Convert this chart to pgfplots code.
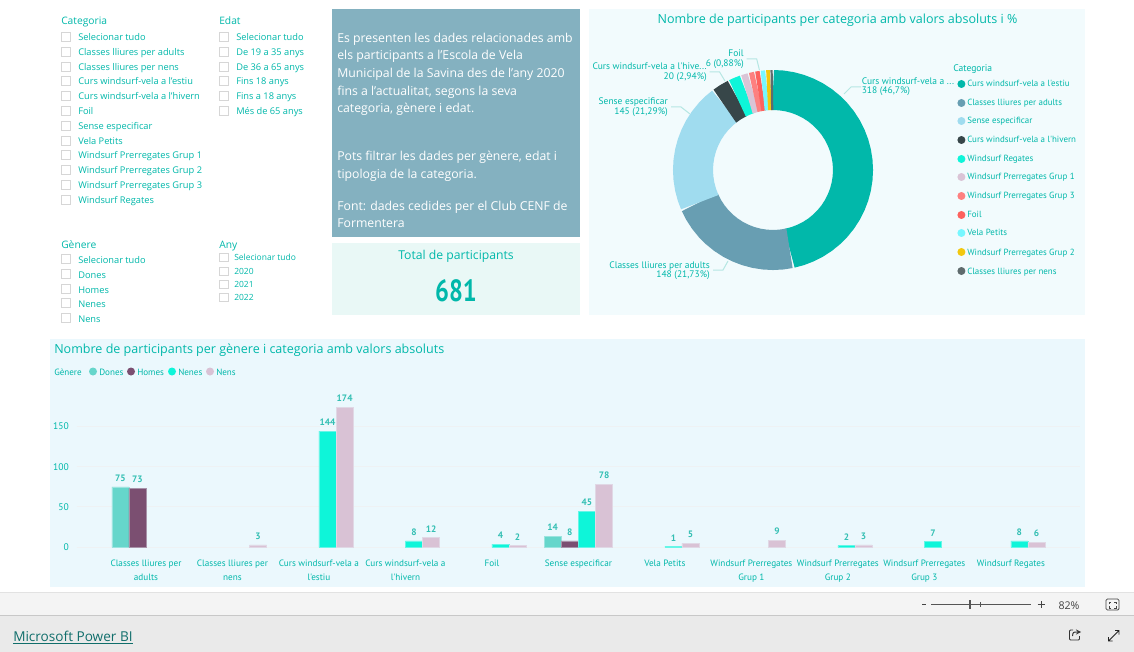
\documentclass[border=0pt]{standalone}
\usepackage{fontspec}
\usepackage{graphicx}
\usepackage{pgfplots}
\pgfplotsset{compat=1.18}
\usepgfplotslibrary{polar}
\setmainfont{Open Sans}
\newfontfamily\din{PT Sans}
\definecolor{teal}{HTML}{01B8AA}
\definecolor{tealsoft}{HTML}{33BFB3}
\definecolor{cbc}{HTML}{D6D6D6}
\definecolor{leader}{HTML}{B5E7E3}
\definecolor{cA}{HTML}{01B8AA}\definecolor{cB}{HTML}{689EB2}\definecolor{cC}{HTML}{A0DCEF}
\definecolor{cD}{HTML}{374649}\definecolor{cE}{HTML}{0EF5D9}\definecolor{cF}{HTML}{DAC4D6}
\definecolor{cG}{HTML}{FD8080}\definecolor{cH}{HTML}{FD625E}\definecolor{cI}{HTML}{77F7FF}
\definecolor{cJ}{HTML}{F2C80F}\definecolor{cK}{HTML}{5F6B6D}
\definecolor{gD}{HTML}{66D6CB}\definecolor{gH}{HTML}{7B4F71}\definecolor{gN}{HTML}{0EF5D9}\definecolor{gS}{HTML}{D9C2D5}
\definecolor{pA}{HTML}{84B1C0}\definecolor{pB}{HTML}{E9F8F6}\definecolor{pC}{HTML}{F2FBFD}\definecolor{pD}{HTML}{EBF8FD}
\definecolor{fA}{HTML}{F4F4F4}\definecolor{fB}{HTML}{EAEAEA}\definecolor{lA}{HTML}{E2E2E2}\definecolor{lB}{HTML}{C8C8C8}
\definecolor{gridc}{HTML}{EEF2F4}\definecolor{linkc}{HTML}{106E6B}
\definecolor{dA}{HTML}{444444}\definecolor{dB}{HTML}{555555}\definecolor{dC}{HTML}{333333}\definecolor{dD}{HTML}{222222}
\newcommand\fpx[1]{\fontsize{#1}{#1}\selectfont}
\begin{document}
\begin{tikzpicture}
\begin{scope}[x=0.75pt,y=-0.75pt]
\path[use as bounding box] (0,0) rectangle (1134,652);
\fill[white] (0,0) rectangle (1134,652);
% panels
\fill[pA] (332,9) rectangle (580,237);
\fill[pB] (332,243) rectangle (580,315);
\fill[pC] (589,9) rectangle (1085,315);
\fill[pD] (50,339) rectangle (1085,587);
% footer
\fill[fA] (0,592) rectangle (1134,615);
\fill[fB] (0,615) rectangle (1134,652);
\draw[lA,line width=.75pt] (0,592.5) -- (1134,592.5);
\draw[lB,line width=.75pt] (0,615) -- (1134,615);
\coordinate (barO) at (76.8,547.3);
\coordinate (pieC) at (773,170);
\end{scope}
% bar chart
\begin{axis}[at={(barO)},anchor=south west,scale only axis,width=752.4pt,height=114.9pt,
  ybar=0pt,bar width=12.83pt,
  xmin=-0.8,xmax=10.8,ymin=0,ymax=190,
  axis line style={draw=none},major tick length=0pt,
  ymajorgrids,grid style={gridc,line width=.75pt},
  ytick={0,50,100,150},xtick={0,...,10},
  xticklabels={{Classes lliures per\\adults},{Classes lliures per\\nens},{Curs windsurf-vela a\\l'estiu},{Curs windsurf-vela a\\l'hivern},{Foil},{Sense especificar},{Vela Petits},{Windsurf Prerregates\\Grup 1},{Windsurf Prerregates\\Grup 2},{Windsurf Prerregates\\Grup 3},{Windsurf Regates}},
  xticklabel style={align=center,font=\din\fontsize{6.9}{10.4}\selectfont,text=teal,yshift=-6pt},
  yticklabel style={font=\din\fpx{7.2},text=teal,xshift=-2.5pt},
  /pgf/number format/assume math mode=true,
  nodes near coords,
  nodes near coords style={font=\din\bfseries\fpx{7},text=tealsoft,yshift=0.5pt},
  clip=false]
\addplot[fill=gD,draw=gD!60!pD,line width=.35pt] coordinates {(0,75)(5,14)};
\addplot[fill=gH,draw=gH!60!pD,line width=.35pt] coordinates {(0,73)(5,8)};
\addplot[fill=gN,draw=gN!60!pD,line width=.35pt] coordinates {(2,144)(3,8)(4,4)(5,45)(6,1)(8,2)(9,7)(10,8)};
\addplot[fill=gS,draw=gS!60!pD,line width=.35pt] coordinates {(1,3)(2,174)(3,12)(4,2)(5,78)(6,5)(7,9)(8,3)(10,6)};
\end{axis}
% donut: angles are the cumulative shares of 318,148,145,20,14,9,7,6,6,5,3 out of 681
\begin{polaraxis}[at={(pieC)},anchor=center,scale only axis,width=150pt,height=150pt,
  hide axis,ymin=0,ymax=100,clip=false]
\pgfplotsset{every axis plot/.style={line width=30pt,line cap=butt,line join=miter,no markers}}
\addplot[cA] coordinates {(90,80)(84,80)(78,80)(72,80)(66,80)(60,80)(54,80)(48,80)(42,80)(36,80)(30,80)(24,80)(18,80)(12,80)(6,80)(0,80)(-6,80)(-12,80)(-18,80)(-24,80)(-30,80)(-36,80)(-42,80)(-48,80)(-54,80)(-60,80)(-66,80)(-72,80)(-78.1,80)};
\addplot[cB] coordinates {(-78.1,80)(-84,80)(-90,80)(-96,80)(-102,80)(-108,80)(-114,80)(-120,80)(-126,80)(-132,80)(-138,80)(-144,80)(-150,80)(-156.3,80)};
\addplot[cC] coordinates {(-156.3,80)(-162,80)(-168,80)(-174,80)(-180,80)(-186,80)(-192,80)(-198,80)(-204,80)(-210,80)(-216,80)(-222,80)(-228,80)(-233,80)};
\addplot[cD] coordinates {(-233,80)(-238,80)(-243.6,80)};
\addplot[cE] coordinates {(-243.6,80)(-247,80)(-251,80)};
\addplot[cF] coordinates {(-251,80)(-255.7,80)};
\addplot[cG] coordinates {(-255.7,80)(-259.4,80)};
\addplot[cH] coordinates {(-259.4,80)(-262.6,80)};
\addplot[cI] coordinates {(-262.6,80)(-265.8,80)};
\addplot[cJ] coordinates {(-265.8,80)(-268.4,80)};
\addplot[cK] coordinates {(-268.4,80)(-270,80)};
\end{polaraxis}
\begin{scope}[x=0.75pt,y=-0.75pt,every node/.style={inner sep=0pt,text=teal}]
% slicers
\newcommand\cbx[3]{\draw[cbc,fill=white,line width=.6pt] (#1,#2-4.5) rectangle (#1+9,#2+4.5);\node[anchor=base west] at (#1+17,#2+4) {\fpx{6.95}#3};}
\node[anchor=base west] at (61,25) {\fpx{7.7}Categoria};
\foreach \y/\t in {37/Selecionar tudo,52/Classes lliures per adults,67/Classes lliures per nens,81/Curs windsurf-vela a l'estiu,96/Curs windsurf-vela a l'hivern,111/Foil,126/Sense especificar,141/Vela Petits,155/Windsurf Prerregates Grup 1,170/Windsurf Prerregates Grup 2,185/Windsurf Prerregates Grup 3,200/Windsurf Regates} {\cbx{61}{\y}{\t}}
\node[anchor=base west] at (219,25) {\fpx{7.7}Edat};
\foreach \y/\t in {37/Selecionar tudo,52/De 19 a 35 anys,67/De 36 a 65 anys,81/Fins 18 anys,96/Fins a 18 anys,111/Més de 65 anys} {\cbx{219}{\y}{\t}}
\node[anchor=base west] at (61,248) {\fpx{7.7}Gènere};
\foreach \y/\t in {259/Selecionar tudo,274/Dones,289/Homes,303/Nenes,318/Nens} {\cbx{61}{\y}{\t}}
\node[anchor=base west] at (219,248) {\fpx{7.7}Any};
\foreach \y/\t in {257/Selecionar tudo,271/2020,284/2021,297/2022} {\draw[cbc,fill=white,line width=.6pt] (219,\y-4) rectangle (228,\y+4.5);\node[anchor=base west] at (234,\y+3.5) {\fpx{6.35}\t};}
% text panel
\foreach \y/\t in {43/Es presenten les dades relacionades amb,60/els participants a l'Escola de Vela,78/Municipal de la Savina des de l'any 2020,96/{fins a l'actualitat, segons la seva},113/{categoria, gènere i edat.},161/{Pots filtrar les dades per gènere, edat i},179/tipologia de la categoria.,211/Font: dades cedides per el Club CENF de,228/Formentera} {\node[anchor=base west,text=white] at (337,\y) {\fpx{9.2}\t};}
\node[anchor=base] at (456,259) {\fpx{9.15}Total de participants};
\node[anchor=base] at (456,301) {\scalebox{.8}[1]{\din\bfseries\fpx{23}681}};
% titles
\node[anchor=base] at (837.5,24) {\fpx{9.4}Nombre de participants per categoria amb valors absoluts i \%};
\node[anchor=base west] at (54,353) {\fpx{9.4}Nombre de participants per gènere i categoria amb valors absoluts};
% bar legend
\node[anchor=base west] at (54,375) {\din\fpx{6.8}Gènere};
\foreach \x/\c/\t in {93/gD/Dones,131/gH/Homes,172/gN/Nenes,210/gS/Nens} {\fill[\c] (\x,371.5) circle (4);\node[anchor=base west] at (\x+6,375) {\din\fpx{6.8}\t};}
% pie legend
\node[anchor=base west] at (953,72) {\din\fpx{7.2}Categoria};
\foreach \y/\c/\t in {84/cA/Curs windsurf-vela a l'estiu,103/cB/Classes lliures per adults,121/cC/Sense especificar,140/cD/Curs windsurf-vela a l'hivern,159/cE/Windsurf Regates,177/cF/Windsurf Prerregates Grup 1,196/cG/Windsurf Prerregates Grup 3,215/cH/Foil,233/cI/Vela Petits,252/cJ/Windsurf Prerregates Grup 2,271/cK/Classes lliures per nens} {\fill[\c] (961.4,\y) circle (4);\node[anchor=base west] at (967,\y+3) {\din\fpx{6.7}\t};}
% pie labels
\draw[leader,line width=.75pt] (844,94)--(851,87)--(861,87);
\draw[leader,line width=.75pt] (671,107)--(681,107)--(690,114);
\draw[leader,line width=.75pt] (713,270)--(723,270)--(728,261);
\draw[leader,line width=.75pt] (709.5,72)--(719.6,72)--(725,81);
\draw[leader,line width=.75pt] (746.6,59)--(756.7,59)--(759.4,70);
\node[anchor=base west] at (861.5,85) {\din\fpx{7.1}Curs windsurf-vela a ...};
\node[anchor=base west] at (861.5,94) {\din\fpx{7.1}318 (46,7\%)};
\node[anchor=base east] at (668,105) {\din\fpx{7.1}Sense especificar};
\node[anchor=base east] at (668,115) {\din\fpx{7.1}145 (21,29\%)};
\node[anchor=base east] at (710,268) {\din\fpx{7.1}Classes lliures per adults};
\node[anchor=base east] at (710,277) {\din\fpx{7.1}148 (21,73\%)};
\node[anchor=base east] at (707,70) {\din\fpx{7.1}Curs windsurf-vela a l'hive...};
\node[anchor=base east] at (707,80) {\din\fpx{7.1}20 (2,94\%)};
\node[anchor=base east] at (744,57) {\din\fpx{7.1}Foil};
\node[anchor=base east] at (744,67) {\din\fpx{7.1}6 (0,88\%)};
% footer controls
\node[anchor=base west,text=linkc] at (13,641) {\fpx{10.2}\underline{Microsoft Power BI}};
\draw[dA,line width=1pt] (922,604.5)--(926,604.5);
\draw[dB,line width=.6pt] (931,604.5)--(1031,604.5);
\draw[dB,line width=1.2pt] (970,600)--(970,609);
\draw[dB,line width=.5pt] (980.5,602)--(980.5,607);
\draw[dA,line width=.7pt] (1037.5,604.5)--(1044.5,604.5) (1041,601)--(1041,608);
\node[anchor=base,text=dA] at (1069,609) {\fpx{8}82\%};
\draw[dA,line width=.6pt,rounded corners=1pt] (1106,599)rectangle(1119,610);
\draw[dA,line width=.5pt] (1109,604)--(1109,602)--(1111,602) (1114,602)--(1116,602)--(1116,604) (1116,606)--(1116,608)--(1114,608) (1111,608)--(1109,608)--(1109,606);
\draw[dC,line width=.7pt,rounded corners=.8pt] (1073,630)--(1069.5,630)--(1069.5,640)--(1079.5,640)--(1079.5,636);
\draw[dC,line width=.7pt,-stealth] (1072.5,636)..controls(1073,632)..(1081,632);
\draw[dD,line width=.7pt] (1108.5,641)--(1119,630.5) (1115,630.5)--(1119,630.5)--(1119,634.5) (1108.5,637)--(1108.5,641)--(1112.5,641);
\end{scope}
\end{tikzpicture}
\end{document}
